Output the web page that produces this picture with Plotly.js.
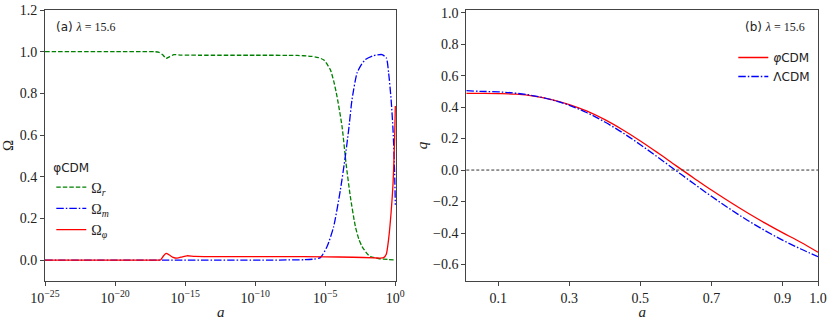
<!DOCTYPE html>
<html>
<head>
<meta charset="utf-8">
<script src="https://cdn.plot.ly/plotly-3.0.1.min.js"></script>
<style>html,body{margin:0;padding:0;background:#fff}#plot{width:830px;height:320px}</style>
</head>
<body>
<div id="plot"></div>
<script>
// ---- Panel (a): density parameters vs scale factor (log10 a) ----
const logA_r = [-25, -20, -17.2, -16.9, -16.6, -16.36, -16.1, -15.8, -15.3, -14, -10, -7, -6, -5.5, -5.1, -4.64, -4.4, -4.16, -3.8, -3.52, -3.21, -2.85, -2.6, -2.37, -2.0, -1.78, -1.2, -0.5, 0];
const omega_r = [1.0, 1.0, 1.0, 0.998, 0.985, 0.968, 0.976, 0.986, 0.984, 0.983, 0.983, 0.982, 0.978, 0.972, 0.960, 0.914, 0.86, 0.785, 0.64, 0.466, 0.305, 0.161, 0.10, 0.065, 0.03, 0.017, 0.008, 0.003, 0.001];

const logA_m = [-25, -17, -10, -6.5, -5.8, -5.35, -4.87, -4.4, -3.92, -3.57, -3.33, -3.09, -2.73, -2.4, -2.14, -1.55, -0.95, -0.64, -0.48, -0.3, -0.16, -0.05, 0];
const omega_m = [0, 0, 0, 0.002, 0.005, 0.012, 0.065, 0.161, 0.337, 0.497, 0.625, 0.77, 0.898, 0.94, 0.962, 0.981, 0.986, 0.97, 0.9, 0.77, 0.62, 0.42, 0.266];

const logA_phi = [-25, -17.0, -16.76, -16.55, -16.36, -16.15, -15.9, -15.58, -15.2, -14.87, -14.3, -12, -8, -5, -3, -1.5, -1.07, -0.83, -0.64, -0.48, -0.3, -0.16, -0.05, 0];
const omega_phi = [0, 0, 0.001, 0.02, 0.032, 0.026, 0.015, 0.0096, 0.016, 0.021, 0.018, 0.017, 0.017, 0.016, 0.014, 0.011, 0.0096, 0.012, 0.03, 0.1, 0.23, 0.37, 0.58, 0.74];

const xTickExp = [-25, -20, -15, -10, -5, 0];
const yTicksA = [0, 0.2, 0.4, 0.6, 0.8, 1.0, 1.2];

// ---- Panel (b): deceleration parameter ----
const a_q = [0.01, 0.05, 0.1, 0.15, 0.2, 0.25, 0.3, 0.35, 0.4, 0.45, 0.5, 0.55, 0.6, 0.65, 0.7, 0.75, 0.8, 0.85, 0.9, 0.95, 1.0];
const q_phiCDM = [0.487, 0.487, 0.486, 0.482, 0.470, 0.448, 0.416, 0.374, 0.320, 0.256, 0.185, 0.108, 0.028, -0.050, -0.127, -0.200, -0.270, -0.336, -0.398, -0.457, -0.522];
const q_LCDM = [0.505, 0.500, 0.497, 0.488, 0.472, 0.447, 0.411, 0.364, 0.305, 0.237, 0.161, 0.080, -0.003, -0.086, -0.167, -0.244, -0.317, -0.384, -0.445, -0.500, -0.550];

const xTicksB = [0.1, 0.3, 0.5, 0.7, 0.9, 1.0];
const yTicksB = [-0.6, -0.4, -0.2, 0.0, 0.2, 0.4, 0.6, 0.8, 1.0];

const pow10 = arr => arr.map(v => Math.pow(10, v));
const SERIF = '"Liberation Serif", serif';
const SANS = '"DejaVu Sans", sans-serif';

const traces = [
  {x: pow10(logA_r), y: omega_r, xaxis: 'x', yaxis: 'y', mode: 'lines', name: 'Ω<sub><i>r</i></sub>',
   line: {color: '#008000', width: 1.3, dash: '4.5px,2px', shape: 'spline', smoothing: 0.6}, legend: 'legend'},
  {x: pow10(logA_m), y: omega_m, xaxis: 'x', yaxis: 'y', mode: 'lines', name: 'Ω<sub><i>m</i></sub>',
   line: {color: '#0000ff', width: 1.3, dash: '7.5px,2px,1.5px,2px', shape: 'spline', smoothing: 0.6}, legend: 'legend'},
  {x: pow10(logA_phi), y: omega_phi, xaxis: 'x', yaxis: 'y', mode: 'lines', name: 'Ω<sub><i>φ</i></sub>',
   line: {color: '#ff0000', width: 1.3, shape: 'spline', smoothing: 0.6}, legend: 'legend'},
  {x: a_q, y: q_phiCDM, xaxis: 'x2', yaxis: 'y2', mode: 'lines', name: '<i>φ</i>CDM',
   line: {color: '#ff0000', width: 1.3, shape: 'spline', smoothing: 1}, legend: 'legend2'},
  {x: a_q, y: q_LCDM, xaxis: 'x2', yaxis: 'y2', mode: 'lines', name: 'ΛCDM',
   line: {color: '#0000ff', width: 1.3, dash: '7.5px,2px,1.5px,2px', shape: 'spline', smoothing: 1}, legend: 'legend2'}
];

const axisCommon = {
  showline: true, mirror: true, linecolor: '#444', linewidth: 1,
  ticks: 'outside', ticklen: 4, tickwidth: 1, tickcolor: '#444',
  showgrid: false, zeroline: false, automargin: false,
  tickfont: {family: SERIF, size: 14, color: '#222'}
};

// plot area: x 44.7..817.7 px, y 10..281 px
const M = {l: 44.7, r: 12.3, t: 10, b: 39};
const PW = 830 - M.l - M.r, PH = 320 - M.t - M.b;
const px2dom = px => (px - M.l) / PW;

const layout = {
  width: 830, height: 320,
  margin: M,
  paper_bgcolor: '#fff', plot_bgcolor: '#fff',
  showlegend: true,
  xaxis: Object.assign({}, axisCommon, {
    domain: [0, px2dom(396)], anchor: 'y', type: 'log', range: [-25, 0.07],
    tickvals: pow10(xTickExp), ticktext: xTickExp.map(e => '10<sup>' + String(e).replace('-', '−') + '</sup>'),
    title: {text: '<i>a</i>', font: {family: SERIF, size: 15, color: '#222'}, standoff: 4}
  }),
  yaxis: Object.assign({}, axisCommon, {
    domain: [0, 1], anchor: 'x', range: [-0.1, 1.2],
    tickvals: yTicksA, tickformat: '.1f',
    title: {text: 'Ω', font: {family: SERIF, size: 15, color: '#222'}, standoff: 3}
  }),
  xaxis2: Object.assign({}, axisCommon, {
    domain: [px2dom(466), 1], anchor: 'y2', range: [0.01, 1.0],
    tickvals: xTicksB, ticktext: xTicksB.map(v => v.toFixed(1)),
    title: {text: '<i>a</i>', font: {family: SERIF, size: 15, color: '#222'}, standoff: 4}
  }),
  yaxis2: Object.assign({}, axisCommon, {
    domain: [0, 1], anchor: 'x2', range: [-0.705, 1.017],
    tickvals: yTicksB, tickformat: '.1f',
    title: {text: '<i>q</i>', font: {family: SERIF, size: 15, color: '#222'}, standoff: 1}
  }),
  shapes: [
    {type: 'line', xref: 'x2 domain', yref: 'y2', x0: 0, x1: 1, y0: 0, y1: 0,
     line: {color: '#333', width: 1, dash: '3px,2px'}}
  ],
  legend: {
    x: px2dom(51), y: 1 - (156 - M.t) / PH, xanchor: 'left', yanchor: 'top',
    bgcolor: 'rgba(0,0,0,0)', borderwidth: 0,
    font: {family: SERIF, size: 14, color: '#222'},
    title: {text: 'φCDM', font: {family: SANS, size: 12, color: '#222'}},
    tracegroupgap: 0
  },
  legend2: {
    x: px2dom(733), y: 1 - (43 - M.t) / PH, xanchor: 'left', yanchor: 'top',
    bgcolor: 'rgba(0,0,0,0)', borderwidth: 0,
    font: {family: SANS, size: 12, color: '#222'}
  },
  annotations: [
    {xref: 'paper', yref: 'paper', x: px2dom(54), y: 1 - (27 - M.t) / PH, xanchor: 'left', yanchor: 'middle', showarrow: false,
     text: '(a) <span style="font-family:Liberation Serif"><i>λ</i> = 15.6</span>', font: {family: SANS, size: 12, color: '#222'}},
    {xref: 'paper', yref: 'paper', x: px2dom(807), y: 1 - (27 - M.t) / PH, xanchor: 'right', yanchor: 'middle', showarrow: false,
     text: '(b) <span style="font-family:Liberation Serif"><i>λ</i> = 15.6</span>', font: {family: SANS, size: 12, color: '#222'}}
  ]
};

Plotly.newPlot('plot', traces, layout, {staticPlot: true, displayModeBar: false});
</script>
</body>
</html>
